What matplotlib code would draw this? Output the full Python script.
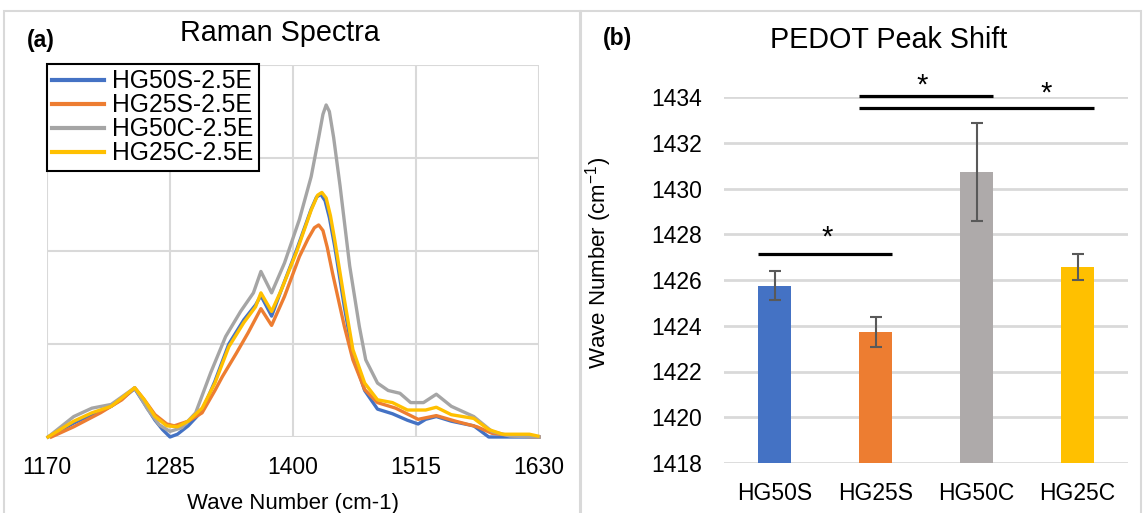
import matplotlib
matplotlib.use("Agg")
import matplotlib.pyplot as plt
from matplotlib.patches import Rectangle

plt.rcParams['font.family'] = ['Liberation Sans', 'DejaVu Sans']
plt.rcParams['mathtext.fontset'] = 'custom'
plt.rcParams['mathtext.rm'] = 'Liberation Sans'

# ---- panel (a): Raman spectra
hg50s_x = [1171, 1195, 1212, 1230, 1240, 1252, 1261, 1271, 1278, 1285, 1292, 1302, 1315, 1327, 1340,
           1354, 1365, 1370, 1380, 1389, 1403, 1417, 1422, 1426, 1430, 1434, 1439, 1448, 1456, 1467,
           1479, 1493, 1507, 1517, 1524, 1534, 1548, 1569, 1583, 1600, 1630]
hg50s_y = [0.00, 0.15, 0.24, 0.33, 0.41, 0.52, 0.36, 0.18, 0.08, 0.00, 0.03, 0.12, 0.28, 0.60, 1.00,
           1.26, 1.42, 1.52, 1.30, 1.58, 2.00, 2.45, 2.58, 2.61, 2.54, 2.36, 2.05, 1.40, 0.88, 0.50,
           0.30, 0.25, 0.18, 0.14, 0.19, 0.22, 0.17, 0.12, 0.00, 0.00, 0.00]

hg25s_x = [1174, 1195, 1220, 1240, 1252, 1261, 1271, 1282, 1289, 1302, 1315, 1327, 1334, 1347, 1358,
           1370, 1380, 1392, 1406, 1414, 1420, 1424, 1428, 1432, 1437, 1448, 1456, 1467, 1479, 1496,
           1517, 1534, 1552, 1572, 1586, 1610, 1630]
hg25s_y = [0.00, 0.11, 0.26, 0.40, 0.53, 0.40, 0.24, 0.14, 0.12, 0.17, 0.26, 0.50, 0.65, 0.90, 1.12,
           1.38, 1.20, 1.51, 1.94, 2.13, 2.25, 2.28, 2.22, 2.04, 1.76, 1.19, 0.83, 0.51, 0.37, 0.31,
           0.19, 0.23, 0.17, 0.11, 0.04, 0.01, 0.00]

hg50c_x = [1171, 1195, 1212, 1230, 1252, 1264, 1275, 1285, 1296, 1309, 1323, 1337, 1351, 1363, 1370,
           1380, 1392, 1406, 1417, 1424, 1428, 1431, 1434, 1438, 1444, 1453, 1462, 1468, 1479, 1489,
           1500, 1510, 1522, 1534, 1548, 1569, 1586, 1603, 1630]
hg50c_y = [0.00, 0.22, 0.31, 0.35, 0.53, 0.30, 0.13, 0.06, 0.10, 0.26, 0.69, 1.08, 1.35, 1.55, 1.78,
           1.55, 1.87, 2.34, 2.80, 3.22, 3.47, 3.57, 3.50, 3.22, 2.70, 1.84, 1.19, 0.83, 0.58, 0.50,
           0.47, 0.37, 0.37, 0.46, 0.33, 0.22, 0.06, 0.01, 0.00]

hg25c_x = [1171, 1195, 1212, 1230, 1240, 1252, 1261, 1271, 1282, 1292, 1302, 1315, 1327, 1340, 1354,
           1365, 1370, 1380, 1389, 1403, 1417, 1423, 1427, 1431, 1435, 1439, 1448, 1456, 1467, 1479,
           1493, 1507, 1524, 1534, 1548, 1569, 1583, 1596, 1621, 1629]
hg25c_y = [0.00, 0.17, 0.26, 0.33, 0.42, 0.53, 0.40, 0.22, 0.12, 0.11, 0.17, 0.31, 0.58, 0.97, 1.23,
           1.40, 1.55, 1.35, 1.58, 1.98, 2.44, 2.60, 2.63, 2.57, 2.38, 2.12, 1.48, 0.94, 0.58, 0.40,
           0.37, 0.29, 0.29, 0.32, 0.24, 0.20, 0.08, 0.03, 0.03, 0.01]

spec_labels = ['HG50S-2.5E', 'HG25S-2.5E', 'HG50C-2.5E', 'HG25C-2.5E']
spec_colors = ['#4472C4', '#ED7D31', '#A5A5A5', '#FFC000']
x_ticks = [1170, 1285, 1400, 1515, 1630]

# ---- panel (b): peak shift bars
samples = ['HG50S', 'HG25S', 'HG50C', 'HG25C']
peak = [1425.75, 1423.73, 1430.72, 1426.57]
peak_err = [0.64, 0.65, 2.15, 0.57]
bar_colors = ['#4472C4', '#ED7D31', '#AEAAAA', '#FFC000']
# significance brackets: (from bar, to bar, line level)
sig_pairs = [(0, 1, 1427.14), (1, 2, 1434.04), (1, 3, 1433.52)]
star_pos = [(0.52, 1427.5), (1.46, 1434.15), (2.69, 1433.8)]

W, H = 1144, 513
fig = plt.figure(figsize=(W / 100, H / 100), dpi=100)

# panel frames
fig.patches.append(Rectangle((4 / W, -0.01), (580 - 4) / W, 1 - 11 / H + 0.01, transform=fig.transFigure,
                             fill=False, edgecolor='#d9d9d9', lw=1.5))
fig.patches.append(Rectangle((581 / W, -0.01), (1141 - 581) / W, 1 - 11 / H + 0.01, transform=fig.transFigure,
                             fill=False, edgecolor='#d9d9d9', lw=1.5))

grid_c = '#d9d9d9'

ax1 = fig.add_axes([47 / W, 1 - 437 / H, 492 / W, (437 - 65) / H])
series = [(hg50s_x, hg50s_y), (hg25s_x, hg25s_y), (hg50c_x, hg50c_y), (hg25c_x, hg25c_y)]
for (xs, ys), lab, c in zip(series, spec_labels, spec_colors):
    ax1.plot(xs, ys, color=c, lw=2.4, label=lab, solid_joinstyle='round', clip_on=False, zorder=3)
ax1.set_xlim(1170, 1630)
ax1.set_ylim(0, 4)
ax1.set_xticks(x_ticks)
ax1.set_yticks([0, 1, 2, 3, 4])
ax1.set_yticklabels([])
ax1.grid(True, color=grid_c, lw=1.5)
ax1.set_axisbelow(True)
for s in ax1.spines.values():
    s.set_visible(False)
ax1.tick_params(length=0, labelsize=16.5, pad=14)
ax1.set_xlabel('Wave Number (cm-1)', fontsize=16, labelpad=10)
fig.text(280 / W, 1 - 33 / H, 'Raman Spectra', fontsize=20.7, ha='center', va='center')
leg = ax1.legend(loc='upper left', bbox_to_anchor=(0, 1.003), borderaxespad=0, fontsize=17.8,
                 frameon=True, fancybox=False, framealpha=1, edgecolor='black',
                 labelspacing=0, borderpad=0.22, handlelength=2.1, handletextpad=0.3)
leg.get_frame().set_linewidth(1.5)
for h in leg.get_lines():
    h.set_linewidth(3)
fig.text(41 / W, 1 - 40 / H, '(a)', fontsize=16.5, fontweight='bold', ha='center', va='center')

ax2 = fig.add_axes([724 / W, 1 - 463 / H, 404 / W, (463 - 97) / H])
pos = list(range(len(samples)))
bw = 0.33
ax2.bar(pos, peak, width=bw, color=bar_colors, zorder=2)
ax2.errorbar(pos, peak, yerr=peak_err, fmt='none', ecolor='#595959', elinewidth=1.5,
             capsize=4.3, capthick=1.5, zorder=3)
ax2.set_xlim(-0.5, 3.5)
ax2.set_ylim(1418, 1434)
ax2.set_yticks(range(1418, 1435, 2))
ax2.set_xticks(pos)
ax2.set_xticklabels(samples)
ax2.yaxis.grid(True, color=grid_c, lw=2)
ax2.set_axisbelow(True)
for s in ax2.spines.values():
    s.set_visible(False)
ax2.tick_params(axis='y', length=0, labelsize=16.5, pad=16)
ax2.tick_params(axis='x', length=0, labelsize=16.5, pad=14)
ax2.set_ylabel('Wave Number (cm$^{\\mathregular{-1}}$)', fontsize=16)
ax2.yaxis.set_label_coords(-0.272, 0.546)
fig.text(889 / W, 1 - 40 / H, 'PEDOT Peak Shift', fontsize=20.7, ha='center', va='center')
for a, b, lev in sig_pairs:
    ax2.plot([pos[a] - bw / 2, pos[b] + bw / 2], [lev, lev], color='black', lw=2.3,
             solid_capstyle='butt', clip_on=False, zorder=4)
for sx, sy in star_pos:
    ax2.text(sx, sy, '*', fontsize=21, ha='center', va='baseline')
fig.text(618 / W, 1 - 39 / H, '(b)', fontsize=16.5, fontweight='bold', ha='center', va='center')

fig.savefig('out.png', dpi=100)
